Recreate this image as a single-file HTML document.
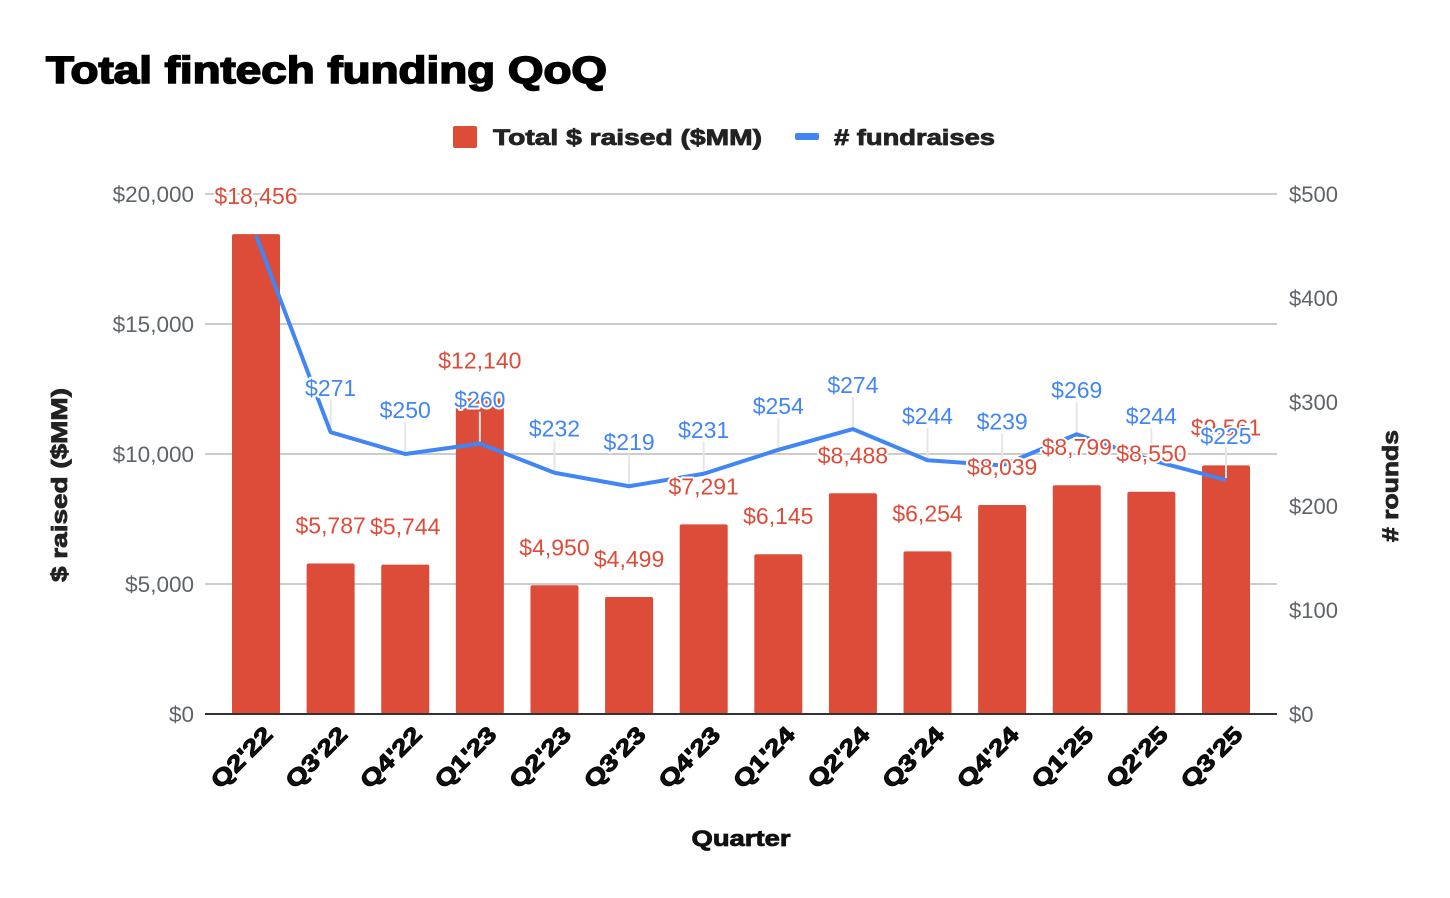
<!DOCTYPE html>
<html><head><meta charset="utf-8"><style>
html,body{margin:0;padding:0;background:#fff;}
svg{display:block;font-family:"Liberation Sans",Arial,sans-serif;}
.lbl{paint-order:stroke;stroke:#fff;stroke-width:4px;stroke-linejoin:round;}
.heavy{stroke:#000;stroke-width:1px;}
</style></head><body>
<svg id="chart" width="1450" height="898" viewBox="0 0 1450 898">
<text x="46" y="83" font-size="38" font-weight="900" fill="#000" stroke="#000" stroke-width="1.6" textLength="561" lengthAdjust="spacingAndGlyphs">Total fintech funding QoQ</text>
<g>
<g><rect x="453" y="126" width="24" height="22" rx="2" fill="#dd4b39"/><text x="493" y="145" font-size="22" font-weight="bold" fill="#222" stroke="#222" stroke-width="0.8" textLength="269" lengthAdjust="spacingAndGlyphs">Total $ raised ($MM)</text></g>
<g><rect x="795" y="133" width="24" height="7" rx="2" fill="#4285f4"/><text x="834" y="145" font-size="22" font-weight="bold" fill="#222" stroke="#222" stroke-width="0.8" textLength="161" lengthAdjust="spacingAndGlyphs"># fundraises</text></g>
</g>
<g id="grid"></g>
<g id="bars"></g>
<g id="line"></g>
<g id="labels"></g>
<text transform="translate(67,485) rotate(-90)" text-anchor="middle" font-size="22" font-weight="bold" fill="#222" stroke="#222" stroke-width="0.8" textLength="194" lengthAdjust="spacingAndGlyphs">$ raised ($MM)</text>
<text transform="translate(1398,486) rotate(-90)" text-anchor="middle" font-size="22" font-weight="bold" fill="#222" stroke="#222" stroke-width="0.8" textLength="112" lengthAdjust="spacingAndGlyphs"># rounds</text>
<text x="741" y="846" text-anchor="middle" font-size="22" font-weight="bold" fill="#111" stroke="#111" stroke-width="0.8" textLength="99" lengthAdjust="spacingAndGlyphs">Quarter</text>
</svg>
<script>
const categories=["Q2'22","Q3'22","Q4'22","Q1'23","Q2'23","Q3'23","Q4'23","Q1'24","Q2'24","Q3'24","Q4'24","Q1'25","Q2'25","Q3'25"];
const raised=[18456,5787,5744,12140,4950,4499,7291,6145,8488,6254,8039,8799,8550,9561];
const rounds=[460,271,250,260,232,219,231,254,274,244,239,269,244,225];
const leftTicks=[0,5000,10000,15000,20000];
const rightTicks=[0,100,200,300,400,500];
const NS="http://www.w3.org/2000/svg";
const G0=205,G1=1277,X0=218.7,X1=1263.3,Y0=714,Y1=194;
const step=(X1-X0)/categories.length;
const xc=i=>X0+step*(i+0.5);
const yL=v=>Y0-(v/20000)*(Y0-Y1);
const yR=v=>Y0-(v/500)*(Y0-Y1);
const fmt=v=>"$"+v.toLocaleString("en-US");
function mk(tag,attrs,parent,txt){const e=document.createElementNS(NS,tag);for(const k in attrs)e.setAttribute(k,attrs[k]);if(txt!==undefined)e.textContent=txt;parent.appendChild(e);return e;}
const grid=document.getElementById('grid');
leftTicks.forEach(t=>{
 if(t>0){const g=mk('line',{x1:G0,x2:G1,y1:yL(t),y2:yL(t),stroke:'#cccccc','stroke-width':2},grid);
 
 }
 const tl=mk('text',{x:194,y:yL(t)+8,'text-anchor':'end','font-size':22.5,fill:'#5f6368'},grid,fmt(t));
 
 
});
rightTicks.forEach(t=>{
 const tl=mk('text',{x:1289,y:yR(t)+8,'font-size':22,fill:'#5f6368'},grid,fmt(t));
 
 
});
const bars=document.getElementById('bars');
const labels=document.getElementById('labels');
categories.forEach((c,i)=>{
 const b=mk('rect',{x:xc(i)-24,y:yL(raised[i]),width:48,height:Y0-yL(raised[i]),rx:2,fill:'#dd4b39'},bars);
 
 
 const xl=mk('text',{class:'heavy',transform:`translate(${xc(i)+18},736) rotate(-45)`,'text-anchor':'end','font-size':23,'font-weight':'900',fill:'#111',textLength:76,lengthAdjust:'spacingAndGlyphs'},bars,c);
 
 
});
const axis=mk('line',{x1:G0,x2:G1,y1:Y0,y2:Y0,stroke:'#333','stroke-width':2},bars);


const line=document.getElementById('line');
rounds.forEach((v,i)=>{
 if(i===0)return;
 const l=mk('line',{x1:xc(i),x2:xc(i),y1:yR(v)-32,y2:yR(v)-2,stroke:'#e6e6e6','stroke-width':2},line);
 
 
});
const p=mk('polyline',{points:rounds.map((v,i)=>xc(i)+','+yR(v)).join(' '),fill:'none',stroke:'#4285f4','stroke-width':4,'stroke-linejoin':'round'},line);


raised.forEach((v,i)=>{
 const t=mk('text',{class:'lbl',x:xc(i),y:yL(v)-30,'text-anchor':'middle','font-size':23,fill:'#dd4b39'},labels,fmt(v));
 
 
});
rounds.forEach((v,i)=>{
 if(i===0)return;
 const t=mk('text',{class:'lbl',x:xc(i),y:yR(v)-36,'text-anchor':'middle','font-size':23,fill:'#4285f4'},labels,fmt(v));
 
 
});
</script>
</body></html>
